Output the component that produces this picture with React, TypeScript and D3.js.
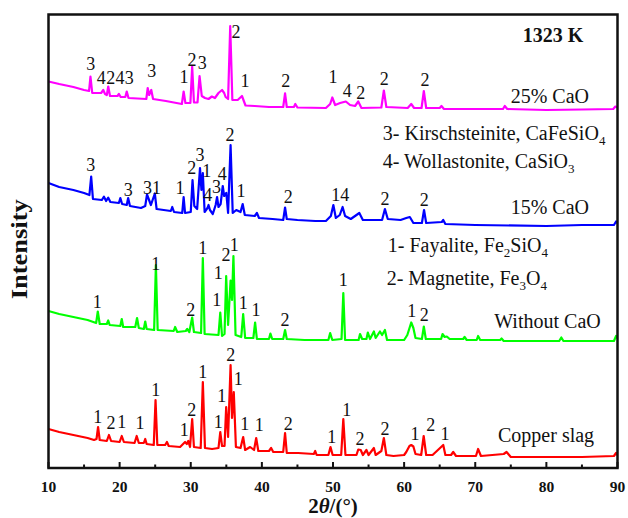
import React from 'react';
import * as d3 from 'd3';

// ---------- DATA ----------
const xTickValues = [10, 20, 30, 40, 50, 60, 70, 80, 90];
const xMinorTicks = [15, 25, 35, 45, 55, 65, 75, 85];

const seriesNames = ['Copper slag', 'Without CaO', '15% CaO', '25% CaO'];
const seriesColors = ['#ff0000', '#00ff00', '#0000ff', '#ff00ff'];
const seriesOffsets = [0, 117, 231, 349];

const copperSlag: [number, number][] = [
  [10.0, 39], [11.5, 36], [13.5, 33], [15.5, 30], [16.4, 28], [16.75, 29], [16.97, 41], [17.2, 28], [18.2, 27], [18.5, 33], [18.8, 27],
  [20.0, 26], [20.3, 32], [20.6, 26], [22.1, 25], [22.4, 32], [22.7, 25], [23.4, 25], [23.6, 29], [23.8, 24], [24.8, 23], [25.05, 68],
  [25.3, 23], [26.4, 23], [26.65, 26], [26.9, 22], [28.5, 21], [29.2, 26], [29.45, 24], [29.65, 27], [29.9, 21], [30.2, 49], [30.45, 21],
  [31.4, 20], [31.7, 86], [32.0, 20], [33.0, 19], [33.9, 20], [34.15, 36], [34.4, 22], [34.75, 22], [34.98, 61], [35.25, 31], [35.6, 103],
  [35.8, 50], [36.05, 76], [36.35, 21], [37.0, 20], [37.37, 31], [37.65, 18], [38.35, 21], [38.9, 18], [39.2, 30], [39.5, 17], [41.0, 17],
  [41.3, 20], [41.6, 16], [43.0, 16], [43.26, 35], [43.5, 15], [45.1, 15], [47.3, 14], [47.5, 17], [47.7, 13], [49.35, 13], [49.65, 21],
  [49.95, 13], [51.15, 13], [51.45, 49], [51.75, 13], [53.3, 13], [53.55, 18.5], [53.9, 18], [54.2, 13], [54.7, 18], [55.0, 13], [55.75, 20],
  [56.0, 13], [56.8, 17], [57.15, 30], [57.5, 13], [58.5, 12], [60.0, 13], [60.3, 16], [60.75, 22], [61.0, 23], [61.3, 21.5], [61.6, 14],
  [62.4, 13], [62.75, 32], [63.1, 13], [64.0, 13], [65.5, 23], [65.8, 13], [66.6, 13], [66.9, 16], [67.3, 12], [70.1, 12], [70.4, 19],
  [70.8, 12], [74.0, 14], [74.4, 16], [75.0, 11], [80, 11], [85, 11], [89.5, 12], [89.8, 15], [90, 13],
];

const withoutCaO: [number, number][] = [
  [10.0, 40], [11.5, 37], [13.5, 34], [15.5, 31], [16.7, 28], [16.93, 39.5], [17.2, 27], [18.2, 27], [18.4, 30.5], [18.6, 26], [20.1, 25],
  [20.3, 32], [20.5, 24], [22.2, 24], [22.45, 33], [22.7, 23], [23.4, 22], [23.6, 29.5], [23.8, 22], [24.85, 21], [25.1, 86], [25.35, 21],
  [27.6, 20], [27.8, 24], [28.1, 19], [29.3, 20], [29.5, 22], [29.8, 19], [30.2, 33.5], [30.45, 19], [31.45, 18], [31.7, 93], [31.95, 17],
  [33.9, 16], [34.15, 38.5], [34.4, 15], [34.75, 17], [34.98, 75], [35.25, 26], [35.6, 70.5], [35.8, 51], [36.0, 95], [36.3, 16], [37.1, 14],
  [37.37, 37], [37.65, 13], [38.8, 13], [39.05, 28.5], [39.3, 12], [41.0, 12], [41.2, 17.5], [41.45, 12], [43.0, 12], [43.26, 21], [43.5, 12],
  [46.0, 11], [49.35, 11], [49.6, 18], [49.9, 11], [51.2, 12], [51.45, 58], [51.7, 11], [53.6, 11], [53.8, 17], [54.1, 12], [54.7, 12],
  [54.9, 18.5], [55.2, 12], [55.75, 19.5], [56.0, 13], [56.6, 19.5], [56.9, 16], [57.3, 21], [57.6, 11], [60.0, 11], [60.45, 16], [61.0, 28.5],
  [61.3, 23], [61.6, 13], [62.5, 12], [62.77, 24.5], [63.05, 12], [65.2, 12], [65.4, 17], [65.7, 14], [66.0, 14.5], [66.4, 12], [68.3, 12],
  [68.5, 14], [68.8, 11], [70.2, 11], [70.4, 15], [70.7, 11], [73.5, 11], [73.7, 12.5], [74.0, 10], [81.8, 10], [82.1, 13.5], [82.4, 10],
  [89.5, 10], [89.8, 15], [90, 13],
];

const caO15: [number, number][] = [
  [10.0, 54], [11.5, 50], [13.5, 47], [15.0, 44], [15.75, 42], [16.0, 60.5], [16.25, 38], [17.5, 37], [17.8, 40.3], [18.1, 36], [18.4, 39.3],
  [18.7, 35], [19.9, 34], [20.1, 39], [20.35, 33], [21.0, 32], [21.2, 39], [21.45, 31], [23.0, 29], [23.6, 31], [23.85, 42.5], [24.4, 32],
  [24.95, 43.5], [25.2, 28], [27.2, 26], [27.4, 30], [27.65, 25], [28.8, 24], [29.0, 40], [29.2, 24], [30.0, 25], [30.25, 57], [30.5, 31],
  [30.9, 28], [31.3, 69], [31.5, 47], [31.7, 64], [31.95, 25], [32.35, 29], [32.5, 32], [32.7, 27], [33.1, 23], [33.5, 32], [33.7, 40],
  [33.9, 30], [34.2, 33], [34.5, 51], [34.7, 41], [35.0, 44], [35.25, 24], [35.6, 92], [35.9, 24], [36.4, 27], [37.0, 25], [37.3, 33],
  [37.6, 22], [39.0, 21], [39.3, 24], [39.6, 19], [41.5, 18], [43.0, 17], [43.26, 29.5], [43.5, 18], [45.0, 17], [47.5, 16], [49.0, 16],
  [49.7, 21], [50.05, 32], [50.4, 19], [50.95, 22], [51.35, 30], [51.7, 21], [52.5, 18], [53.7, 24], [54.2, 17], [56.9, 17], [57.3, 28],
  [57.7, 18], [59.5, 17], [60.3, 19], [60.8, 20], [61.3, 14], [62.5, 14], [62.8, 27], [63.1, 14], [65.3, 15], [65.5, 17], [65.8, 13],
  [70, 12], [80, 11], [85, 12], [89.5, 12], [89.8, 15.5], [90, 14],
];

const caO25: [number, number][] = [
  [10.0, 37.5], [11.5, 35], [13.5, 32], [15.0, 29], [15.7, 28], [15.9, 42.5], [16.15, 26], [17.4, 26], [17.7, 29], [17.95, 25], [18.2, 24],
  [18.4, 32.5], [18.65, 23], [19.7, 23], [19.9, 25], [20.15, 22], [20.8, 22], [21.0, 27.5], [21.25, 21], [22.5, 20.5], [23.75, 20],
  [23.95, 31], [24.15, 24], [24.45, 29], [24.7, 20], [26.5, 18], [28.0, 16], [28.75, 15], [29.0, 27.5], [29.25, 16], [29.95, 16],
  [30.2, 52.5], [30.45, 16.5], [30.95, 16.5], [31.24, 43], [31.55, 23], [32.0, 21], [32.5, 20], [32.97, 22.5], [33.4, 21], [33.9, 26],
  [34.4, 29], [34.7, 26], [34.9, 22], [35.25, 20], [35.55, 93], [35.85, 19], [36.6, 19], [37.2, 23], [37.7, 13.5], [39.0, 13], [41.0, 12],
  [43.0, 12], [43.26, 25.7], [43.5, 12], [44.5, 12], [44.7, 15], [45.0, 11.5], [49.0, 11], [49.6, 15], [49.9, 21.5], [50.3, 14], [51.0, 16],
  [51.8, 17.5], [52.4, 14], [53.1, 13], [53.55, 17.5], [54.0, 11], [56.8, 11.5], [57.15, 28.5], [57.5, 12], [60.5, 11], [61.0, 15],
  [61.4, 11], [62.45, 11], [62.77, 28], [63.1, 11], [65.0, 11], [65.25, 13], [65.6, 10], [73.9, 10], [74.15, 13], [74.5, 10], [80.0, 9],
  [85.0, 9.5], [89.4, 10], [89.7, 12.5], [90.0, 11.5],
];

const seriesData = [copperSlag, withoutCaO, caO15, caO25];

// peak labels: [2theta, phase number, intensity]
const copperLabels: [number, string, number][] = [
  [16.92, '1', 51.7], [18.79, '2', 45], [20.29, '1', 46.3], [22.86, '1', 45], [25.07, '1', 78], [29.09, '1', 38], [30.13, '2', 58],
  [31.68, '1', 96.3], [33.87, '1', 46.3], [34.35, '1', 72], [35.62, '2', 113], [36.69, '1', 89.7], [37.59, '1', 44], [39.64, '1', 43],
  [43.72, '2', 44.7], [49.82, '1', 31], [51.93, '1', 58.7], [53.8, '2', 29.7], [57.31, '2', 39.7], [61.53, '1', 34], [63.74, '2', 43],
  [65.75, '1', 34.7],
];
const withoutLabels: [number, string, number][] = [
  [16.86, '1', 49.3], [25.07, '1', 87.7], [29.99, '2', 41.7], [31.68, '1', 103], [33.65, '1', 51], [33.87, '1', 78.3], [34.95, '2', 96],
  [36.12, '1', 106.5], [37.39, '1', 48.3], [39.17, '1', 41], [43.25, '2', 31.7], [51.45, '1', 71], [61.07, '1', 40], [62.84, '2', 36.7],
];
const caO15Labels: [number, string, number][] = [
  [15.93, '3', 72], [21.22, '3', 47], [23.92, '3', 49.7], [25.19, '1', 49.7], [28.49, '1', 49.7], [30.13, '2', 69.7], [31.3, '3', 82],
  [32.24, '1', 66], [32.38, '4', 42.7], [33.62, '3', 50.3], [34.44, '4', 63.7], [35.52, '2', 102], [37.07, '1', 46.3], [43.72, '2', 40.3],
  [50.4, '1', 42], [51.66, '4', 42], [57.31, '2', 38], [62.84, '2', 37],
];
const caO25Labels: [number, string, number][] = [
  [15.93, '3', 55.7], [17.42, '4', 41.7], [18.74, '2', 41.7], [20.05, '4', 41.7], [21.36, '3', 41.7], [24.51, '3', 48.3], [29.05, '1', 42.3],
  [30.18, '2', 59.7], [31.62, '3', 56.3], [36.36, '2', 87.3], [37.63, '1', 38.3], [43.35, '2', 38], [50.0, '1', 42.3], [52.01, '4', 28.3],
  [53.89, '2', 26.3], [57.21, '2', 40.7], [62.93, '2', 39.7],
];
const seriesPeakLabels = [copperLabels, withoutLabels, caO15Labels, caO25Labels];

// series name anchors: [2theta, intensity]
const seriesNameAnchors: [number, number][] = [[73.2, 26.3], [72.68, 22.7], [74.98, 22.7], [74.98, 15.7]];

// phase legend: prefix, then [base, subscript] pairs
const phaseLegend: { pre: string; parts: [string, string][] }[] = [
  { pre: '3- Kirschsteinite, ', parts: [['CaFeSiO', '4']] },
  { pre: '4- Wollastonite, ', parts: [['CaSiO', '3']] },
  { pre: '1- Fayalite, ', parts: [['Fe', '2'], ['SiO', '4']] },
  { pre: '2- Magnetite, ', parts: [['Fe', '3'], ['O', '4']] },
];
// legend anchors [2theta, absolute intensity]
const phaseLegendAnchors: [number, number][] = [[57.0, 328], [57.0, 300.3], [57.7, 216], [57.55, 183]];

const titleText = '1323 K';
const titleAnchor: [number, number] = [76.67, 426.3];

// ---------- CHART ----------
const W = 628;
const H = 518;
const plotLeft = 48.5;
const plotRight = 617.5;
const plotTop = 14.5;
const plotBottom = 468;
const FONT = '"Liberation Serif", "Times New Roman", serif';

export default function App() {
  const x = d3.scaleLinear().domain([10, 90]).range([plotLeft, plotRight]);
  const y = d3.scaleLinear().domain([0, plotBottom - plotTop]).range([plotBottom, plotTop]);

  return (
    <svg width={W} height={H} style={{ position: 'absolute', left: 0, top: 0, background: '#fff' }} fontFamily={FONT}>
      <defs>
        <clipPath id="plotclip">
          <rect x={plotLeft} y={plotTop} width={plotRight - plotLeft} height={plotBottom - plotTop} />
        </clipPath>
      </defs>
      {/* traces */}
      <g clipPath="url(#plotclip)">
        {seriesData.map((data, i) => {
          const line = d3
            .line<[number, number]>()
            .x((d) => x(d[0]))
            .y((d) => y(d[1] + seriesOffsets[i]));
          return (
            <path key={i} d={line(data) || ''} fill="none" stroke={seriesColors[i]} strokeWidth={2.2} strokeLinejoin="round" />
          );
        })}
      </g>
      {/* peak labels */}
      {seriesPeakLabels.map((labels, i) => (
        <g key={'pl' + i}>
          {labels.map((l, j) => (
            <text key={j} x={x(l[0])} y={y(l[2] + seriesOffsets[i])} dy="0.35em" textAnchor="middle" fontSize={18} fill="#111">
              {l[1]}
            </text>
          ))}
        </g>
      ))}
      {/* series names */}
      {seriesNames.map((n, i) => (
        <text key={'sn' + i} x={x(seriesNameAnchors[i][0])} y={y(seriesNameAnchors[i][1] + seriesOffsets[i])} fontSize={20} fill="#111">
          {n}
        </text>
      ))}
      {/* phase legend */}
      {phaseLegend.map((p, i) => (
        <text key={'lg' + i} x={x(phaseLegendAnchors[i][0])} y={y(phaseLegendAnchors[i][1])} fontSize={20} fill="#111">
          {p.pre}
          {p.parts.map((pt, k) => (
            <React.Fragment key={k}>
              <tspan dy={k > 0 ? -5 : 0}>{pt[0]}</tspan>
              <tspan fontSize={13} dy={5}>{pt[1]}</tspan>
            </React.Fragment>
          ))}
        </text>
      ))}
      {/* title */}
      <text x={x(titleAnchor[0])} y={y(titleAnchor[1])} fontSize={20} fontWeight="bold" fill="#111">
        {titleText}
      </text>
      {/* frame */}
      <rect x={plotLeft} y={plotTop} width={plotRight - plotLeft} height={plotBottom - plotTop} fill="none" stroke="#111" strokeWidth={2.5} />
      {/* ticks */}
      {xTickValues.map((t) => (
        <g key={'t' + t}>
          <line x1={x(t)} x2={x(t)} y1={plotBottom} y2={plotBottom - 6} stroke="#111" strokeWidth={2} />
          <text x={x(t)} y={plotBottom + 24} textAnchor="middle" fontSize={15.5} fontWeight="bold" fill="#111">
            {t}
          </text>
        </g>
      ))}
      {xMinorTicks.map((t) => (
        <line key={'m' + t} x1={x(t)} x2={x(t)} y1={plotBottom} y2={plotBottom - 3.5} stroke="#111" strokeWidth={2} />
      ))}
      {/* axis titles */}
      <text x={x(50)} y={513} textAnchor="middle" fontSize={21} fontWeight="bold" fill="#111">
        2<tspan fontStyle="italic">θ</tspan>/(°)
      </text>
      <text
        transform={`translate(27, ${(plotTop + plotBottom) / 2 + 8}) rotate(-90)`}
        textAnchor="middle"
        fontSize={24}
        fontWeight="bold"
        fill="#111"
        textLength={100}
        lengthAdjust="spacingAndGlyphs"
      >
        Intensity
      </text>
    </svg>
  );
}
